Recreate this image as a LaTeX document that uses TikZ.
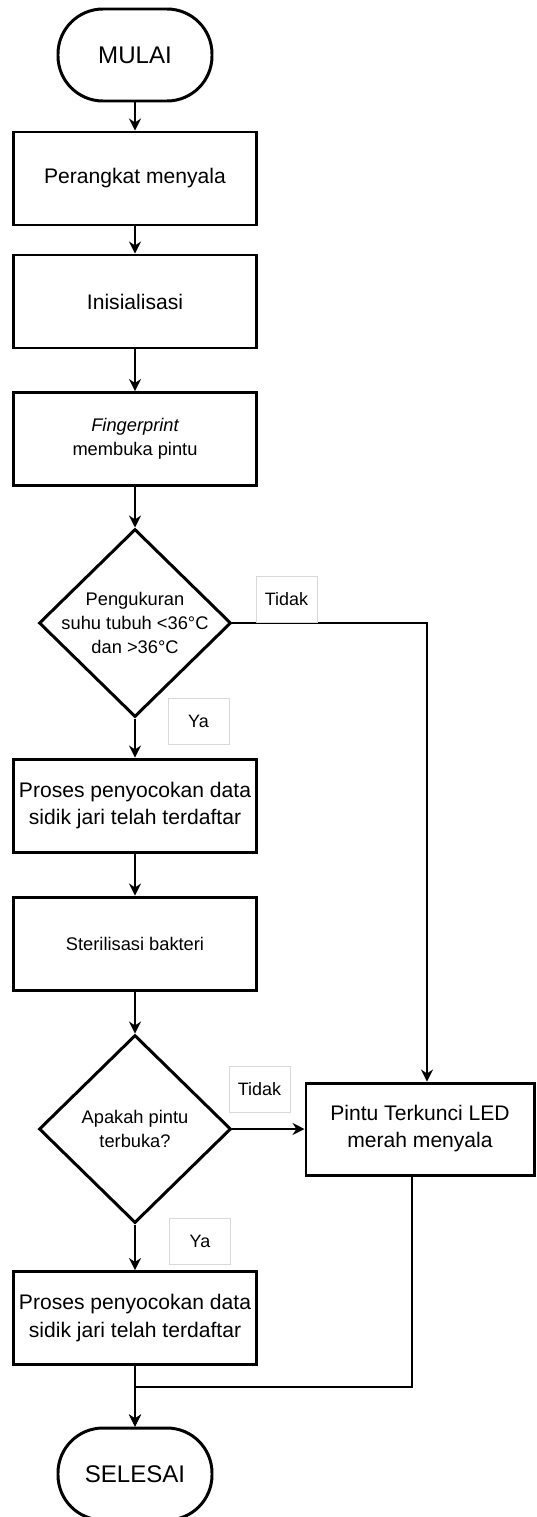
\documentclass[tikz,border=0pt]{standalone}
\usepackage{fontspec}
\setmainfont{Liberation Sans}
\usetikzlibrary{shapes.geometric,arrows.meta}

\tikzset{
  terminal/.style={draw, line width=1.7pt, rounded corners=0.9cm, minimum width=3.08cm, minimum height=1.84cm, font=\fontsize{13.7}{16}\selectfont},
  proses/.style={draw, line width=1.7pt, minimum width=4.86cm, minimum height=1.86cm, align=center, font=\fontsize{12}{15.4}\selectfont},
  proseskecil/.style={proses, font=\fontsize{10.4}{13.6}\selectfont},
  keputusan/.style={draw, diamond, line width=1.7pt, minimum width=3.84cm, minimum height=3.76cm, inner sep=0pt},
  isi/.style={align=center, font=\fontsize{10.4}{13.4}\selectfont},
  jawab/.style={draw=black!15, line width=0.5pt, fill=white, minimum width=1.22cm, minimum height=0.92cm, font=\fontsize{10.2}{12}\selectfont},
  alur/.style={line width=0.85pt, -{Stealth[length=2.4mm,width=2.4mm]}},
}

\begin{document}
\begin{tikzpicture}
    \useasboundingbox (0,0) rectangle (10.74,-30.34);

    \node[terminal] (mulai) at (2.7,-1.1) {MULAI};
    \node[proses] (nyala) at (2.7,-3.57) {Perangkat menyala};
    \node[proses] (inisial) at (2.7,-6.03) {Inisialisasi};
    \node[proseskecil] (finger) at (2.7,-8.78) {{\itshape Fingerprint}\\membuka pintu};
    \node[keputusan, label={[isi]center:{Pengukuran\\suhu tubuh <36°C\\dan >36°C}}] (suhu) at (2.7,-12.46) {};
    \node[proses] (cocok1) at (2.7,-16.11) {Proses penyocokan data\\sidik jari telah terdaftar};
    \node[proseskecil] (steril) at (2.7,-18.87) {Sterilisasi bakteri};
    \node[keputusan, label={[isi]center:{Apakah pintu\\terbuka?}}] (pintu) at (2.7,-22.58) {};
    \node[proses] (cocok2) at (2.7,-26.36) {Proses penyocokan data\\sidik jari telah terdaftar};
    \node[terminal] (selesai) at (2.7,-29.48) {SELESAI};
    \node[proses, minimum width=4.56cm, minimum height=1.84cm] (lampu) at (8.4,-22.58) {Pintu Terkunci LED\\merah menyala};
    \coordinate (gabung) at (2.7,-27.74);

    \draw[alur] (mulai) -- (nyala);
    \draw[alur] (nyala) -- (inisial);
    \draw[alur] (inisial) -- (finger);
    \draw[alur] (finger) -- (suhu);
    \draw[alur] (suhu) -- (cocok1);
    \draw[alur] (cocok1) -- (steril);
    \draw[alur] (steril) -- (pintu);
    \draw[alur] (pintu) -- (cocok2);
    \draw[alur] (cocok2) -- (selesai);
    \draw[alur] (suhu.east) -| ([xshift=0.14cm]lampu.north);
    \draw[alur] (pintu.east) -- (lampu.west);
    \draw[alur] ([xshift=-0.16cm]lampu.south) |- (gabung) -- (selesai.north);

    \node[jawab] (tidak1) at (5.73,-11.99) {Tidak};
    \node[jawab] (ya1) at (3.97,-14.42) {Ya};
    \node[jawab] (tidak2) at (5.19,-21.78) {Tidak};
    \node[jawab] (ya2) at (4.0,-24.82) {Ya};

\end{tikzpicture}
\end{document}
